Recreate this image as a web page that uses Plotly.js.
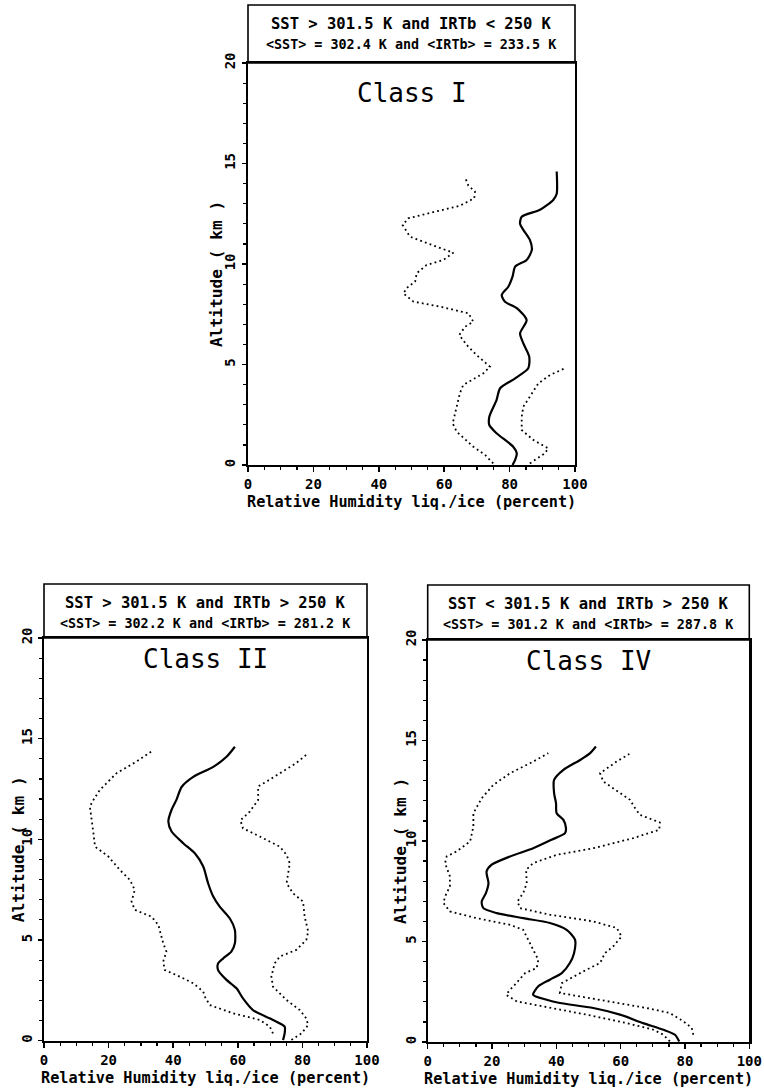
<!DOCTYPE html>
<html>
<head>
<meta charset="utf-8">
<script src="https://cdn.plot.ly/plotly-3.0.1.min.js"></script>
<style>
  html, body { margin: 0; padding: 0; background: #ffffff; }
  #chart { width: 764px; height: 1089px; }
</style>
</head>
<body>
<div id="chart"></div>
<script>
// Relative humidity (percent, liquid/ice) against altitude (km) for three classes.
// Each class: mean profile (solid) and lower/upper envelope (dotted).

const classNames = ['Class I', 'Class II', 'Class IV'];
const headerLine1 = [
  'SST &gt; 301.5 K and IRTb &lt; 250 K',
  'SST &gt; 301.5 K and IRTb &gt; 250 K',
  'SST &lt; 301.5 K and IRTb &gt; 250 K'
];
const headerLine2 = [
  '&lt;SST&gt; = 302.4 K and &lt;IRTb&gt; = 233.5 K',
  '&lt;SST&gt; = 302.2 K and &lt;IRTb&gt; = 281.2 K',
  '&lt;SST&gt; = 301.2 K and &lt;IRTb&gt; = 287.8 K'
];
const xTickVals = [0, 20, 40, 60, 80, 100];
const yTickVals = [0, 5, 10, 15, 20];
const xTitle = 'Relative Humidity liq./ice (percent)';
const yTitle = 'Altitude ( km )';

// Class I
const c1MeanRH  = [80.9,81.7,82.2,81.1,76.0,73.8,73.8,76.0,77.1,81.7,85.7,86.0,84.2,83.2,85.2,82.2,78.6,77.6,79.6,80.9,81.7,85.2,86.8,86.2,84.2,83.2,83.7,89.3,93.4,94.4,94.4];
const c1MeanAlt = [0,0.25,0.58,0.91,1.58,1.99,2.4,3.23,3.82,4.31,4.81,5.39,6.05,6.55,7.21,7.8,8.12,8.46,8.87,9.37,9.87,10.2,10.7,11.2,11.7,12.0,12.35,12.7,13.2,13.5,14.6];
const c1LowRH   = [75.0,72.5,68.9,63.8,62.6,63.8,64.8,65.8,72.0,74.0,69.9,66.9,64.6,66.4,68.9,67.4,58.7,50.6,47.5,49.0,51.1,51.6,54.6,59.7,62.8,57.7,49.5,47.3,49.0,54.6,64.8,69.2,69.4,67.4,66.4];
const c1LowAlt  = [0.08,0.5,0.91,1.66,2.07,2.9,3.57,3.98,4.56,4.89,5.47,5.97,6.47,6.88,7.13,7.55,7.88,8.13,8.54,8.88,9.12,9.54,9.95,10.2,10.56,10.86,11.36,11.94,12.27,12.5,12.9,13.27,13.6,13.9,14.3];
const c1HighRH  = [86.2,90.8,91.8,87.3,83.7,83.7,84.2,86.2,88.8,92.4,96.9];
const c1HighAlt = [0.08,0.58,0.83,1.24,1.74,2.4,2.9,3.4,4.06,4.48,4.81];

// Class II
const c2MeanRH  = [74.0,74.5,74.5,70.9,64.7,61.6,59.6,56.5,53.9,53.9,55.5,58.0,59.1,59.1,57.5,54.4,52.4,50.8,49.3,46.7,43.1,39.5,38.5,39.5,41.0,42.6,46.2,52.4,56.5,59.1];
const c2MeanAlt = [0.03,0.36,0.7,1.03,1.52,2.1,2.6,3.02,3.51,3.84,4.09,4.42,4.84,5.5,6.08,6.66,7.16,7.82,8.65,9.31,9.81,10.39,10.89,11.47,11.96,12.6,13.1,13.6,14.1,14.6];
const c2LowRH   = [70.9,69.9,66.8,58.6,51.3,49.8,49.3,46.2,42.1,37.4,36.9,37.9,36.9,35.4,33.3,28.1,27.1,28.1,26.6,23.5,19.9,15.8,15.3,14.7,14.2,15.3,17.3,22.5,28.7,33.3];
const c2LowAlt  = [0.36,0.7,1.03,1.36,1.77,2.19,2.44,2.85,3.18,3.51,3.93,4.42,4.84,5.75,6.16,6.5,6.91,7.49,7.99,8.48,9.15,9.64,10.31,10.97,11.63,11.96,12.46,13.29,13.87,14.37];
const c2HighRH  = [76.6,79.7,81.8,81.2,79.2,75.1,70.9,70.4,71.4,73.0,78.1,81.2,81.8,80.7,80.2,77.1,75.1,75.6,76.1,75.1,73.0,66.8,61.6,60.8,63.7,66.3,66.3,68.9,73.0,78.1,81.8];
const c2HighAlt = [0.03,0.36,0.78,1.11,1.52,2.02,2.68,3.18,3.84,4.18,4.51,5.0,5.42,6.16,6.91,7.32,7.82,8.32,8.81,9.23,9.64,10.14,10.55,10.94,11.38,11.96,12.63,12.87,13.29,13.79,14.28];

// Class IV
const c4MeanRH  = [78.2,76.9,73.3,67.0,59.8,51.5,41.1,37.0,32.8,34.4,38.0,41.7,44.2,45.5,45.8,43.2,38.0,29.7,21.5,17.3,16.8,18.1,18.9,18.3,19.9,25.6,32.8,38.5,42.7,43.0,42.2,40.1,39.9,39.3,39.3,42.2,47.4,50.5,52.3];
const c4MeanAlt = [0.03,0.36,0.61,0.94,1.36,1.69,1.94,2.1,2.35,2.77,3.1,3.43,3.93,4.42,5.09,5.58,5.92,6.16,6.41,6.66,6.99,7.41,7.9,8.48,8.82,9.23,9.64,10.06,10.39,10.64,11.05,11.38,11.88,12.38,13.04,13.54,14.03,14.37,14.7];
const c4LowRH   = [75.3,73.3,70.2,61.9,49.4,38.0,27.7,24.4,25.6,27.1,30.3,33.9,34.4,32.8,31.3,29.7,25.6,15.2,6.9,4.9,5.4,6.9,6.9,5.4,5.9,9.0,13.2,14.2,14.2,16.8,20.4,25.6,32.8,37.5];
const c4LowAlt  = [0.03,0.36,0.61,0.94,1.36,1.69,2.02,2.35,2.6,2.85,3.43,3.68,4.09,4.59,5.09,5.58,5.83,6.16,6.5,6.91,7.24,7.74,8.24,8.9,9.23,9.48,9.98,10.72,11.38,12.13,12.79,13.37,13.95,14.37];
const c4HighRH  = [82.6,82.1,79.5,75.3,68.1,53.6,41.1,41.7,45.3,49.4,53.6,55.1,57.7,60.3,58.8,51.5,38.0,28.7,27.9,29.7,30.8,30.6,32.8,40.1,51.5,63.9,72.0,72.2,66.0,64.5,62.9,59.8,54.6,53.6,58.7,62.7];
const c4HighAlt = [0.36,0.7,1.03,1.44,1.69,2.1,2.44,2.93,3.26,3.6,3.93,4.42,4.76,5.25,5.67,6.0,6.33,6.66,6.99,7.41,7.9,8.57,8.9,9.31,9.64,10.14,10.56,10.92,11.3,11.63,12.05,12.38,12.96,13.37,13.95,14.33];

const profiles = [
  {mean: [c1MeanRH, c1MeanAlt], low: [c1LowRH, c1LowAlt], high: [c1HighRH, c1HighAlt]},
  {mean: [c2MeanRH, c2MeanAlt], low: [c2LowRH, c2LowAlt], high: [c2HighRH, c2HighAlt]},
  {mean: [c4MeanRH, c4MeanAlt], low: [c4LowRH, c4LowAlt], high: [c4HighRH, c4HighAlt]}
];

// Page geometry (pixels): plot left/right, 20 km line, 0 km line, header box top,
// offsets of the class label and titles.
const W = 764, H = 1089;
const frames = [
  {l: 248,   r: 575,   t: 63,  b: 465,    ht: 5,   classDy: 30, yTitleX: 216, yTitleDy: 10, standoff: 1},
  {l: 44,    r: 367,   t: 638, b: 1040.7, ht: 584, classDy: 21, yTitleX: 18,  yTitleDy: 10, standoff: 0},
  {l: 427.7, r: 749.3, t: 640, b: 1042,   ht: 585, classDy: 21, yTitleX: 400, yTitleDy: 10, standoff: 0}
];
const px = x => x / W;
const py = y => 1 - y / H;

const FONT = 'DejaVu Sans Mono';
const boldFont = (size) => ({family: FONT, size: size, color: '#000', weight: 'bold'});

const data = [];
const layout = {
  width: W, height: H,
  margin: {l: 0, r: 0, t: 0, b: 0},
  paper_bgcolor: '#ffffff',
  plot_bgcolor: '#ffffff',
  showlegend: false,
  shapes: [],
  annotations: []
};

frames.forEach((f, i) => {
  const n = i === 0 ? '' : String(i + 1);
  const xa = 'x' + n, ya = 'y' + n;
  const p = profiles[i];

  data.push({
    x: p.low[0], y: p.low[1], xaxis: xa, yaxis: ya, mode: 'lines',
    line: {color: '#000', width: 1.8, dash: '1.8px,3.2px'}, hoverinfo: 'skip'
  });
  data.push({
    x: p.high[0], y: p.high[1], xaxis: xa, yaxis: ya, mode: 'lines',
    line: {color: '#000', width: 1.8, dash: '1.8px,3.2px'}, hoverinfo: 'skip'
  });
  data.push({
    x: p.mean[0], y: p.mean[1], xaxis: xa, yaxis: ya, mode: 'lines',
    line: {color: '#000', width: 2.2, shape: 'spline', smoothing: 0.7}, hoverinfo: 'skip'
  });

  layout['xaxis' + n] = {
    domain: [px(f.l), px(f.r)],
    anchor: ya,
    range: [0, 100],
    tickvals: xTickVals,
    ticks: 'outside', ticklen: 5, tickwidth: 1.5, tickcolor: '#000',
    minor: {dtick: 5, ticks: 'outside', ticklen: 3, tickwidth: 1.2, tickcolor: '#000'},
    showline: true, linecolor: '#000', linewidth: 2.2, mirror: true,
    showgrid: false, zeroline: false,
    tickfont: boldFont(14),
    ticklabelstandoff: 0,
    fixedrange: true
  };
  layout['yaxis' + n] = {
    domain: [py(f.b), py(f.t)],
    anchor: xa,
    range: [0, 20],
    tickvals: yTickVals,
    tickangle: -90,
    ticks: 'outside', ticklen: 4, tickwidth: 1.5, tickcolor: '#000',
    minor: {dtick: 1, ticks: 'outside', ticklen: 3, tickwidth: 1.2, tickcolor: '#000'},
    showline: true, linecolor: '#000', linewidth: 2.2, mirror: true,
    showgrid: false, zeroline: false,
    tickfont: boldFont(14),
    ticklabelstandoff: f.standoff,
    fixedrange: true
  };

  // header box above the plot area
  layout.shapes.push({
    type: 'rect', xref: 'paper', yref: 'paper',
    x0: px(f.l), x1: px(f.r), y0: py(f.t), y1: py(f.ht),
    line: {color: '#000', width: 1.6}, fillcolor: 'rgba(0,0,0,0)'
  });

  const cx = px((f.l + f.r) / 2);
  layout.annotations.push({
    xref: 'paper', yref: 'paper', x: cx, y: py(f.ht + 19),
    text: headerLine1[i], showarrow: false, xanchor: 'center', yanchor: 'middle',
    font: boldFont(15.5)
  });
  layout.annotations.push({
    xref: 'paper', yref: 'paper', x: cx, y: py(f.ht + 39.5),
    text: headerLine2[i], showarrow: false, xanchor: 'center', yanchor: 'middle',
    font: boldFont(13.4)
  });
  layout.annotations.push({
    xref: 'paper', yref: 'paper', x: cx, y: py(f.t + f.classDy),
    text: classNames[i], showarrow: false, xanchor: 'center', yanchor: 'middle',
    font: {family: FONT, size: 26, color: '#000'}
  });
  layout.annotations.push({
    xref: 'paper', yref: 'paper', x: cx, y: py(f.b + 37),
    text: xTitle, showarrow: false, xanchor: 'center', yanchor: 'middle',
    font: boldFont(15.2)
  });
  layout.annotations.push({
    xref: 'paper', yref: 'paper', x: px(f.yTitleX), y: py((f.t + f.b) / 2 + f.yTitleDy),
    text: yTitle, showarrow: false, xanchor: 'center', yanchor: 'middle', textangle: -90,
    font: boldFont(16.2)
  });
});

Plotly.newPlot('chart', data, layout, {staticPlot: true, displayModeBar: false});
</script>
</body>
</html>
